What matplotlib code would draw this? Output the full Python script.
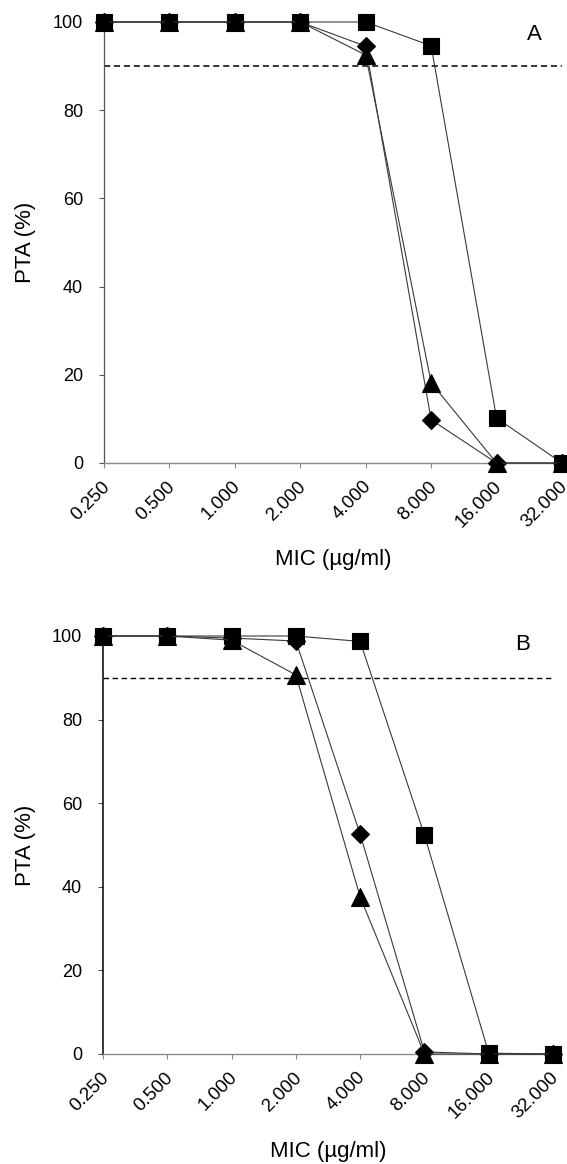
import matplotlib
matplotlib.use("Agg")
import matplotlib.pyplot as plt
from matplotlib.transforms import ScaledTranslation

plt.rcParams['font.family'] = ['Liberation Sans', 'DejaVu Sans']

categories = ["0.250", "0.500", "1.000", "2.000", "4.000", "8.000", "16.000", "32.000"]

# Panel A
a_diamond = [100, 100, 100, 100, 94.5, 9.8, 0, 0]
a_square = [100, 100, 100, 100, 100, 94.6, 10.2, 0]
a_triangle = [100, 100, 100, 100, 92.5, 18.2, 0, 0]

# Panel B
b_diamond = [100, 100, 99.5, 98.8, 52.6, 0.5, 0, 0]
b_square = [100, 100, 100, 100, 98.7, 52.4, 0.2, 0]
b_triangle = [100, 100, 99.0, 90.7, 37.6, 0, 0, 0]

threshold = 90
yticks = [0, 20, 40, 60, 80, 100]

W, H = 567, 1164
fig = plt.figure(figsize=(W / 100, H / 100), dpi=100)


def px_axes(l, r, t, b):
    return fig.add_axes([l / W, 1 - b / H, (r - l) / W, (b - t) / H])


def draw(ax, diamond, square, triangle, letter, letter_xy, ylab_y, xlab_xy, yspine_color, yspine_lw, dash_lw):
    x = list(range(len(categories)))
    line_kw = dict(color='#3a3a3a', lw=0.8, clip_on=False, zorder=3)
    ax.plot(x, diamond, marker='D', ms=9.5, mfc='black', mec='black', mew=0.8, **line_kw)
    ax.plot(x, square, marker='s', ms=11, mfc='black', mec='black', mew=0.8, **line_kw)
    ax.plot(x, triangle, marker='^', ms=12.5, mfc='black', mec='black', mew=0.8, **line_kw)
    ax.plot([0, len(categories) - 1], [threshold, threshold], color='black', lw=dash_lw,
            ls=(0, (4, 2.5)), clip_on=False, zorder=2)
    ax.set_xlim(0, len(categories) - 1)
    ax.set_ylim(0, 100)
    for s in ['top', 'right']:
        ax.spines[s].set_visible(False)
    ax.spines['left'].set_color(yspine_color)
    ax.spines['left'].set_linewidth(yspine_lw)
    ax.spines['bottom'].set_color('#8a8a8a')
    ax.spines['bottom'].set_linewidth(1.0)
    ax.set_yticks(yticks)
    ax.set_yticklabels([str(v) for v in yticks])
    ax.tick_params(axis='y', direction='out', length=3.6, width=0.8, color='#555555',
                   pad=11.5, labelsize=13)
    ax.set_xticks(x)
    ax.set_xticklabels(categories, rotation=45, ha='right', va='center', rotation_mode='anchor')
    ax.tick_params(axis='x', direction='out', length=3.6, width=0.8, color='#8a8a8a',
                   pad=11.5, labelsize=13.5)
    off = ScaledTranslation(3 / 100, 0, fig.dpi_scale_trans)
    for lab in ax.get_xticklabels():
        lab.set_transform(lab.get_transform() + off)
    fig.text(letter_xy[0] / W, 1 - letter_xy[1] / H, letter, fontsize=16, ha='center', va='center')
    fig.text(25 / W, 1 - ylab_y / H, 'PTA (%)', fontsize=16, rotation=90, ha='center', va='center')
    fig.text(xlab_xy[0] / W, 1 - xlab_xy[1] / H, 'MIC (µg/ml)', fontsize=16, ha='center', va='center')


axA = px_axes(104, 562, 22, 463)
draw(axA, a_diamond, a_square, a_triangle, 'A', (534, 35), 242.5, (333, 559), '#555555', 0.9, 1.1)

axB = px_axes(103, 553, 636, 1054)
draw(axB, b_diamond, b_square, b_triangle, 'B', (523, 644), 845, (328, 1151), 'black', 1.1, 1.0)

fig.savefig('out.png', dpi=100)
